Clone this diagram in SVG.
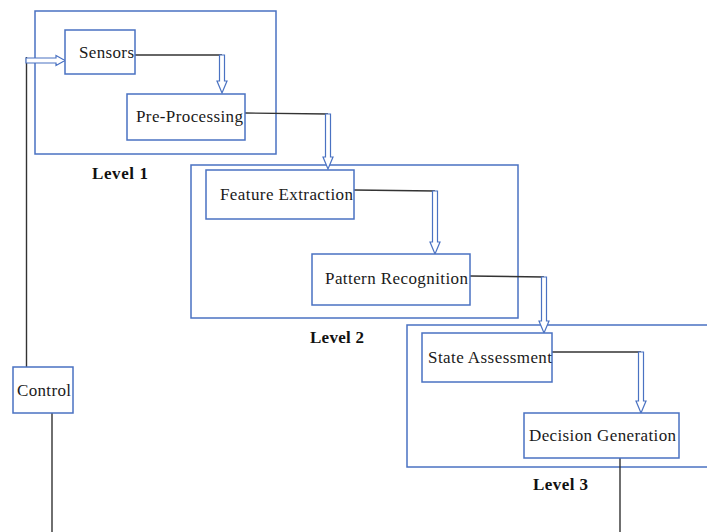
<svg xmlns="http://www.w3.org/2000/svg" width="707" height="532" viewBox="0 0 707 532">
<style>
.frame{fill:none;stroke:#4a72c2;stroke-width:1.5}
.box{fill:#fff;stroke:#4a72c2;stroke-width:1.5}
.lbl{font-family:"Liberation Serif","Times New Roman",serif;font-size:17px;fill:#1a1a1a}
.lvl{font-family:"Liberation Serif","Times New Roman",serif;font-size:17px;font-weight:bold;fill:#111}
.wire{fill:none;stroke:#333;stroke-width:1.4}
.harrow{fill:#fff;stroke:#4a72c2;stroke-width:1.2;stroke-linejoin:miter}
</style>
<rect width="707" height="532" fill="#fff"/>
<g id="level1">
<rect class="frame" x="35" y="11" width="241" height="143"/>
<text class="lvl" x="92" y="179" textLength="56" lengthAdjust="spacing">Level 1</text>
</g>
<g id="level2">
<rect class="frame" x="191" y="165" width="327" height="153"/>
<text class="lvl" x="310" y="343" textLength="54" lengthAdjust="spacing">Level 2</text>
</g>
<g id="level3">
<rect class="frame" x="407" y="325" width="310" height="142"/>
<text class="lvl" x="533" y="490" textLength="55" lengthAdjust="spacing">Level 3</text>
</g>
<g id="connectors">
<path class="wire" d="M26.5 367 V57"/>
<path class="harrow" d="M26 58 H56 V55.5 L65 60.5 L56 65.5 V63 H26 Z"/>
<path class="wire" d="M135 55 H222"/>
<path class="harrow" d="M219.5 55 V81 H217 L222 93 L227 81 H224.5 V55 Z"/>
<path class="wire" d="M245 113 L328 114"/>
<path class="harrow" d="M325.5 114 V157 H323 L328 169 L333 157 H330.5 V114 Z"/>
<path class="wire" d="M354 190 L435 191"/>
<path class="harrow" d="M432.5 191 V242 H430 L435 254 L440 242 H437.5 V191 Z"/>
<path class="wire" d="M470 276 L544 277"/>
<path class="harrow" d="M541.5 277 V321 H539 L544 333 L549 321 H546.5 V277 Z"/>
<path class="wire" d="M552 352 H641"/>
<path class="harrow" d="M638.5 352 V401 H636 L641 413 L646 401 H643.5 V352 Z"/>
<path class="wire" d="M52 413 V532"/>
<path class="wire" d="M620 458 V532"/>
</g>
<g id="sensors">
<rect class="box" x="65" y="30" width="70" height="44"/>
<text class="lbl" x="79" y="57.5" textLength="55" lengthAdjust="spacing">Sensors</text>
</g>
<g id="preprocessing">
<rect class="box" x="127" y="94" width="118" height="46"/>
<text class="lbl" x="136" y="121.5" textLength="107" lengthAdjust="spacing">Pre-Processing</text>
</g>
<g id="feature-extraction">
<rect class="box" x="206" y="170" width="148" height="49"/>
<text class="lbl" x="220" y="200" textLength="133" lengthAdjust="spacing">Feature Extraction</text>
</g>
<g id="pattern-recognition">
<rect class="box" x="312" y="254" width="158" height="51"/>
<text class="lbl" x="325" y="284" textLength="143" lengthAdjust="spacing">Pattern Recognition</text>
</g>
<g id="state-assessment">
<rect class="box" x="422" y="333" width="130" height="49"/>
<text class="lbl" x="428" y="363" textLength="124" lengthAdjust="spacing">State Assessment</text>
</g>
<g id="decision-generation">
<rect class="box" x="524" y="413" width="155" height="45"/>
<text class="lbl" x="529" y="441" textLength="147" lengthAdjust="spacing">Decision Generation</text>
</g>
<g id="control">
<rect class="box" x="13" y="367" width="60" height="46"/>
<text class="lbl" x="17" y="396" textLength="54" lengthAdjust="spacing">Control</text>
</g>
</svg>
